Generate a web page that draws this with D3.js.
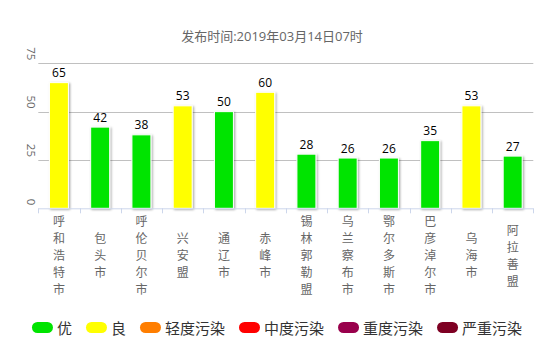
<!DOCTYPE html>
<html><head><meta charset="utf-8">
<script src="https://cdn.jsdelivr.net/npm/d3@7"></script>
<style>
html,body{margin:0;padding:0;background:#fff;}
svg{display:block;font-family:"Open Sans","Noto Sans CJK SC",sans-serif;}
</style></head>
<body><svg id="c" width="550" height="344"></svg>
<script>
const title = "发布时间:2019年03月14日07时";
const cities = ["呼和浩特市","包头市","呼伦贝尔市","兴安盟","通辽市","赤峰市","锡林郭勒盟","乌兰察布市","鄂尔多斯市","巴彦淖尔市","乌海市","阿拉善盟"];
const aqi = [65,42,38,53,50,60,28,26,26,35,53,27];
const yTicks = [0,25,50,75];
const levelNames = ["优","良","轻度污染","中度污染","重度污染","严重污染"];
const levelColors = ["#00e400","#ffff00","#ff7e00","#ff0000","#99004c","#7e0023"];
const levelBreaks = [51,101,151,201,301];

(function(){
const svg = d3.select("#c");
const pL = 38.3, pR = 533.3, pT = 63.3, pB = 208.3;
const x = d3.scaleBand().domain(cities).range([pL, pR]);
const y = d3.scaleLinear().domain([0, 75]).range([pB, pT]);
const color = d3.scaleThreshold().domain(levelBreaks).range(levelColors);

const defs = svg.append("defs");
const f = defs.append("filter").attr("id","sh").attr("x","-50%").attr("y","-20%").attr("width","200%").attr("height","140%");
f.append("feDropShadow").attr("dx",1.2).attr("dy",1).attr("stdDeviation",1.1).attr("flood-color","#000").attr("flood-opacity",0.35);

// title
svg.append("text").attr("x",272).attr("y",36).attr("text-anchor","middle")
  .attr("dominant-baseline","central").attr("font-size",13).attr("fill","#666").text(title);

// gridlines
svg.append("g").selectAll("line").data(yTicks.filter(d=>d>0)).join("line")
  .attr("x1",pL).attr("x2",pR).attr("y1",d=>Math.round(y(d))+0.5).attr("y2",d=>Math.round(y(d))+0.5)
  .attr("stroke","#c0c0c0").attr("stroke-width",1);

// y labels
svg.append("g").selectAll("text").data(yTicks).join("text")
  .attr("transform",d=>`translate(31,${y(d)-3}) rotate(90)`)
  .attr("text-anchor","end").attr("dominant-baseline","central")
  .attr("font-size",11.5).attr("fill","#666").text(d=>d);

// bars
const bw = 19;
svg.append("g").selectAll("rect").data(aqi).join("rect")
  .attr("x",(d,i)=>x(cities[i])+x.bandwidth()/2-bw/2)
  .attr("y",d=>y(d)).attr("width",bw).attr("height",d=>pB-y(d))
  .attr("fill",d=>color(d)).attr("stroke","#fff").attr("stroke-width",1)
  .attr("filter","url(#sh)");

// value labels
svg.append("g").selectAll("text").data(aqi).join("text")
  .attr("x",(d,i)=>x(cities[i])+x.bandwidth()/2)
  .attr("y",d=>y(d)-10).attr("text-anchor","middle").attr("dominant-baseline","central")
  .attr("font-size",12).attr("fill","#000").text(d=>d);

// x axis
svg.append("line").attr("x1",pL).attr("x2",pR).attr("y1",pB+0.5).attr("y2",pB+0.5)
  .attr("stroke","#ccd6eb");
const bounds = cities.map(c=>x(c)).concat([pR]);
svg.append("g").selectAll("line").data(bounds).join("line")
  .attr("x1",d=>Math.round(d)+0.5).attr("x2",d=>Math.round(d)+0.5)
  .attr("y1",pB).attr("y2",pB+5).attr("stroke","#ccd6eb");

// x labels (vertical)
const lh = 17, midY = 255.5;
const xl = svg.append("g").selectAll("text").data(cities).join("text")
  .attr("text-anchor","middle").attr("font-size",12).attr("fill","#666");
xl.each(function(c){
  const chars = Array.from(c);
  const n = chars.length;
  d3.select(this).selectAll("tspan").data(chars).join("tspan")
    .attr("x", x(c)+x.bandwidth()/2)
    .attr("y",(ch,j)=>midY+(j-(n-1)/2)*lh)
    .attr("dominant-baseline","central")
    .text(ch=>ch);
});

// legend
const lg = svg.append("g");
let cx = 0;
levelNames.forEach((name,i)=>{
  const g = lg.append("g").attr("transform",`translate(${cx},0)`);
  g.append("rect").attr("x",0).attr("y",-5.5).attr("width",21).attr("height",11).attr("rx",5.5)
    .attr("fill",levelColors[i]);
  const t = g.append("text").attr("x",25).attr("y",0).attr("dominant-baseline","central")
    .attr("font-size",15).attr("fill","#333").text(name);
  cx += 25 + t.node().getComputedTextLength() + 14;
});
const total = cx - 14;
lg.attr("transform",`translate(${277 - total/2},327.5)`);
})();
</script></body></html>
